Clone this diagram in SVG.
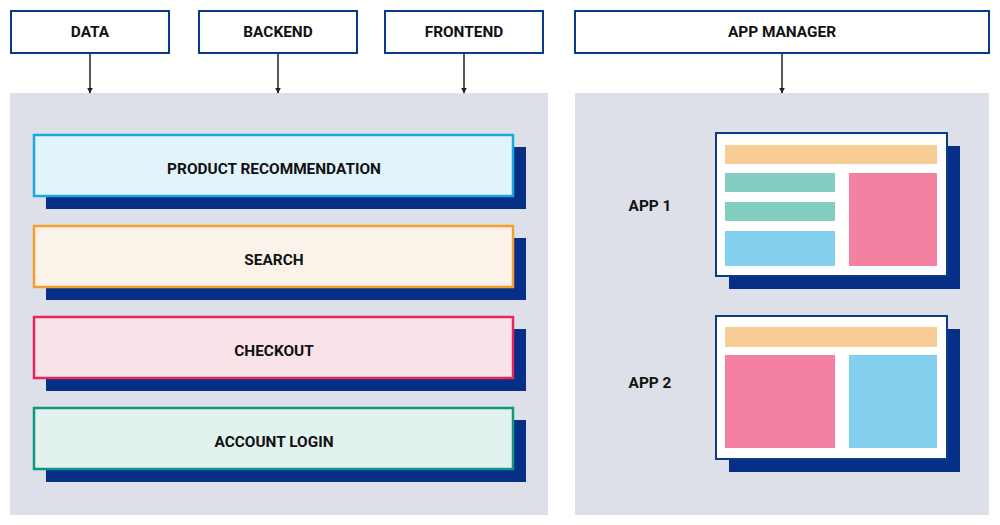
<svg xmlns="http://www.w3.org/2000/svg" width="1000" height="525" viewBox="0 0 1000 525">
<defs>
<style>
.hdr{fill:#fff;stroke:#0a3a8c;stroke-width:2}
.lbl{font-family:Roboto,"Liberation Sans",sans-serif;font-weight:bold;font-size:15.4px;fill:#111;text-anchor:middle;dominant-baseline:central}
.panel{fill:#dde0e8}
.shadow{fill:#062f87}
.conn{stroke:#222;stroke-width:1.5;fill:none}
.win{fill:#fff;stroke:#0a3a8c;stroke-width:2}
.or{fill:#f8cd95}.tl{fill:#82cfc1}.bl{fill:#82d0ee}.pk{fill:#f481a2}
</style>
<marker id="arr" viewBox="0 0 10 10" refX="9" refY="5" markerWidth="6" markerHeight="6" orient="auto" markerUnits="userSpaceOnUse">
<path d="M0,0 L10,5 L0,10 z" fill="#222"/>
</marker>
</defs>
<rect width="1000" height="525" fill="#fff"/>
<rect class="panel" x="10" y="93" width="538" height="422"/>
<rect class="panel" x="575" y="93" width="414" height="422"/>

<g id="data"><rect class="hdr" x="11" y="11" width="158" height="42"/><text class="lbl" x="90" y="32">DATA</text></g>
<g id="backend"><rect class="hdr" x="199" y="11" width="158" height="42"/><text class="lbl" x="278" y="32">BACKEND</text></g>
<g id="frontend"><rect class="hdr" x="385" y="11" width="158" height="42"/><text class="lbl" x="464" y="32">FRONTEND</text></g>
<g id="appmanager"><rect class="hdr" x="575" y="11" width="414" height="42"/><text class="lbl" x="782" y="32">APP MANAGER</text></g>

<g id="connectors">
<line class="conn" x1="90" y1="54" x2="90" y2="93" marker-end="url(#arr)"/>
<line class="conn" x1="278" y1="54" x2="278" y2="93" marker-end="url(#arr)"/>
<line class="conn" x1="464" y1="54" x2="464" y2="93" marker-end="url(#arr)"/>
<line class="conn" x1="782" y1="54" x2="782" y2="93" marker-end="url(#arr)"/>
</g>

<g id="product-recommendation">
<rect class="shadow" x="46" y="147" width="480" height="62"/>
<rect x="34" y="135" width="479" height="61" fill="#e1f3fb" stroke="#1ba7e0" stroke-width="2.5"/>
<text class="lbl" x="274" y="169">PRODUCT RECOMMENDATION</text>
</g>
<g id="search">
<rect class="shadow" x="46" y="238" width="480" height="62"/>
<rect x="34" y="226" width="479" height="61" fill="#fbf3ea" stroke="#f59e2e" stroke-width="2.5"/>
<text class="lbl" x="274" y="260">SEARCH</text>
</g>
<g id="checkout">
<rect class="shadow" x="46" y="329" width="480" height="62"/>
<rect x="34" y="317" width="479" height="61" fill="#f9e3e9" stroke="#e8265a" stroke-width="2.5"/>
<text class="lbl" x="274" y="351">CHECKOUT</text>
</g>
<g id="account-login">
<rect class="shadow" x="46" y="420" width="480" height="62"/>
<rect x="34" y="408" width="479" height="61" fill="#e2f2ef" stroke="#12977f" stroke-width="2.5"/>
<text class="lbl" x="274" y="442">ACCOUNT LOGIN</text>
</g>

<g id="app1">
<text class="lbl" x="650" y="206">APP 1</text>
<rect class="shadow" x="729" y="146" width="231" height="143"/>
<rect class="win" x="716" y="133" width="231" height="143"/>
<rect class="or" x="725" y="145" width="212" height="19"/>
<rect class="tl" x="725" y="173" width="110" height="19"/>
<rect class="tl" x="725" y="202" width="110" height="19"/>
<rect class="bl" x="725" y="231" width="110" height="35"/>
<rect class="pk" x="849" y="173" width="88" height="93"/>
</g>
<g id="app2">
<text class="lbl" x="650" y="383">APP 2</text>
<rect class="shadow" x="729" y="329" width="231" height="143"/>
<rect class="win" x="716" y="316" width="231" height="143"/>
<rect class="or" x="725" y="327" width="212" height="20"/>
<rect class="pk" x="725" y="355" width="110" height="93"/>
<rect class="bl" x="849" y="355" width="88" height="93"/>
</g>
</svg>
